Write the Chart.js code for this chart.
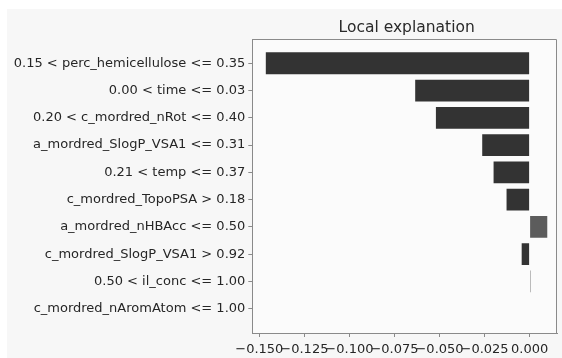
<!DOCTYPE html>
<html>
<head>
<meta charset="utf-8">
<script src="https://cdn.jsdelivr.net/npm/chart.js@4/dist/chart.umd.min.js"></script>
<style>
  html, body { margin: 0; padding: 0; background: #ffffff; }
  #wrap { position: relative; width: 562px; height: 358px; }
  canvas { display: block; }
</style>
</head>
<body>
<div id="wrap"><canvas id="c" width="562" height="358"></canvas></div>
<script>
// ---- data ----
const categories = [
  "0.15 < perc_hemicellulose <= 0.35",
  "0.00 < time <= 0.03",
  "0.20 < c_mordred_nRot <= 0.40",
  "a_mordred_SlogP_VSA1 <= 0.31",
  "0.21 < temp <= 0.37",
  "c_mordred_TopoPSA > 0.18",
  "a_mordred_nHBAcc <= 0.50",
  "c_mordred_SlogP_VSA1 > 0.92",
  "0.50 < il_conc <= 1.00",
  "c_mordred_nAromAtom <= 1.00"
];
const weights = [-0.1464, -0.0635, -0.0520, -0.0263, -0.0200, -0.0128, 0.0098, -0.0044, 0.0005, 0.0];
const xTicks = [-0.150, -0.125, -0.100, -0.075, -0.050, -0.025, 0.000];
const titleText = "Local explanation";

const FONT = "'DejaVu Sans', 'Liberation Sans', sans-serif";

const bgPlugin = {
  id: 'bg',
  beforeDraw(chart) {
    const ctx = chart.ctx;
    const a = chart.chartArea;
    ctx.save();
    ctx.fillStyle = '#f7f7f7';
    ctx.fillRect(7, 9, chart.width - 7, chart.height - 9);
    ctx.fillStyle = '#fbfbfb';
    ctx.fillRect(a.left, a.top, a.right - a.left, a.bottom - a.top);
    ctx.restore();
  },
  afterDraw(chart) {
    const ctx = chart.ctx;
    const a = chart.chartArea;
    ctx.save();
    ctx.strokeStyle = '#8a8a8a';
    ctx.lineWidth = 1;
    ctx.beginPath();
    ctx.moveTo(Math.round(a.left) + 0.5, Math.round(a.top) + 0.5);
    ctx.lineTo(Math.round(a.right) - 0.5, Math.round(a.top) + 0.5);
    ctx.lineTo(Math.round(a.right) - 0.5, Math.round(a.bottom) + 0.5);
    ctx.stroke();
    // title over the plot area
    ctx.fillStyle = '#2a2a2a';
    ctx.font = "15.5px " + FONT;
    ctx.textAlign = 'center';
    ctx.textBaseline = 'alphabetic';
    ctx.fillText(titleText, (a.left + a.right) / 2 + 2, 31.5);
    ctx.restore();
  }
};

new Chart(document.getElementById('c'), {
  type: 'bar',
  data: {
    datasets: [{
      data: weights.map((v, i) => ({ x: v, y: i })),
      backgroundColor: weights.map(v => v > 0 ? '#5c5c5c' : '#333333'),
      borderWidth: 0,
      categoryPercentage: 1.0,
      barPercentage: 0.8
    }]
  },
  options: {
    indexAxis: 'y',
    responsive: false,
    animation: false,
    devicePixelRatio: 1,
    layout: { padding: { top: 39, left: 0, right: 5, bottom: 0 } },
    plugins: {
      legend: { display: false },
      tooltip: { enabled: false },
      title: { display: false }
    },
    scales: {
      y: {
        type: 'linear',
        reverse: true,
        offset: false,
        min: -0.89,
        max: categories.length - 1 + 0.89,
        afterBuildTicks(axis) { axis.ticks = categories.map((_, i) => ({ value: i })); },
        afterFit(axis) { axis.width = 252.3; },
        ticks: {
          autoSkip: false,
          color: '#262626',
          font: { family: FONT, size: 13 },
          padding: 3,
          callback: (v) => categories[v] !== undefined ? categories[v] : ''
        },
        grid: { offset: false, drawOnChartArea: false, drawTicks: true, tickLength: 4, color: '#8a8a8a' },
        border: { display: true, color: '#8a8a8a', width: 1 }
      },
      x: {
        type: 'linear',
        min: -0.1539,
        max: 0.0152,
        afterBuildTicks(axis) { axis.ticks = xTicks.map(v => ({ value: v })); },
        afterFit(axis) { axis.height = 25; },
        ticks: {
          autoSkip: false,
          maxRotation: 0,
          color: '#262626',
          font: { family: FONT, size: 13 },
          padding: 5,
          callback: (v) => (v < 0 ? '\u2212' : '') + Math.abs(v).toFixed(3)
        },
        grid: { drawOnChartArea: false, drawTicks: true, tickLength: 4, color: '#8a8a8a' },
        border: { display: true, color: '#8a8a8a', width: 1 }
      }
    }
  },
  plugins: [bgPlugin]
});
</script>
</body>
</html>
